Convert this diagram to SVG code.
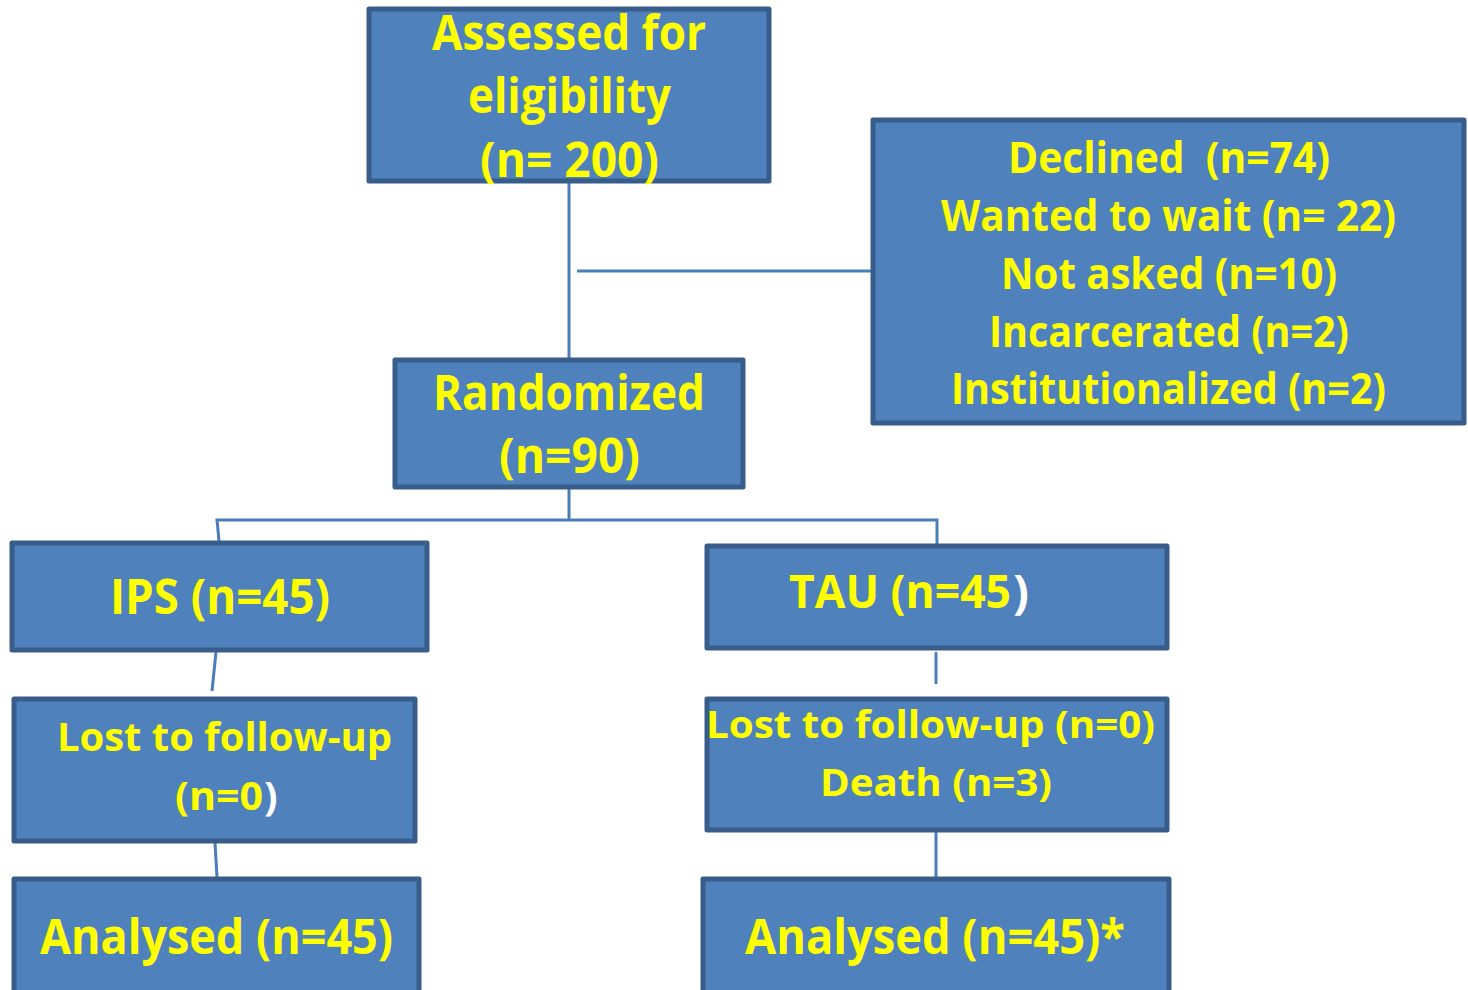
<svg xmlns="http://www.w3.org/2000/svg" width="1468" height="990" viewBox="0 0 1468 990">
<style>
.box{fill:#4F81BD;stroke:#385D8A;stroke-width:5;stroke-linejoin:round}
.t{font-family:"Open Sans","Liberation Sans",sans-serif;font-weight:bold;fill:#FFFF00}
.w{fill:#FFFFFF}
.c{stroke:#4A7EBB;stroke-width:3;fill:none}
</style>
<rect width="1468" height="990" fill="#FFFFFF"/>
<g id="connectors">
<line class="c" x1="569" y1="183" x2="569" y2="358"/>
<line class="c" x1="577" y1="271" x2="871" y2="271"/>
<polyline class="c" points="569,489 569,520"/>
<polyline class="c" points="219,541 217,520 937,520 937,544"/>
<line class="c" x1="216" y1="652" x2="212" y2="691"/>
<line class="c" x1="936" y1="652" x2="936" y2="684"/>
<line class="c" x1="215" y1="843" x2="217" y2="877"/>
<line class="c" x1="936" y1="832" x2="936" y2="877"/>
</g>
<g id="assessed">
<rect class="box" x="369" y="9" width="400" height="172"/>
<text class="t" font-size="49" x="432" y="50" textLength="274" lengthAdjust="spacingAndGlyphs">Assessed for</text>
<text class="t" font-size="49" x="468" y="113" textLength="203" lengthAdjust="spacingAndGlyphs">eligibility</text>
<text class="t" font-size="49" x="480" y="177" textLength="179" lengthAdjust="spacingAndGlyphs">(n= 200)</text>
</g>
<g id="excluded">
<rect class="box" x="873" y="120" width="591" height="303"/>
<text class="t" font-size="43" x="1008" y="173" textLength="322" lengthAdjust="spacingAndGlyphs" xml:space="preserve">Declined  (n=74)</text>
<text class="t" font-size="43" x="941" y="231" textLength="455" lengthAdjust="spacingAndGlyphs">Wanted to wait (n= 22)</text>
<text class="t" font-size="43" x="1001" y="289" textLength="336" lengthAdjust="spacingAndGlyphs">Not asked (n=10)</text>
<text class="t" font-size="43" x="989" y="347" textLength="360" lengthAdjust="spacingAndGlyphs">Incarcerated (n=2)</text>
<text class="t" font-size="43" x="951" y="404" textLength="435" lengthAdjust="spacingAndGlyphs">Institutionalized (n=2)</text>
</g>
<g id="randomized">
<rect class="box" x="395" y="360" width="348" height="127"/>
<text class="t" font-size="49" x="433" y="410" textLength="272" lengthAdjust="spacingAndGlyphs">Randomized</text>
<text class="t" font-size="49" x="499" y="473" textLength="141" lengthAdjust="spacingAndGlyphs">(n=90)</text>
</g>
<g id="ips">
<rect class="box" x="12" y="543" width="415" height="107"/>
<text class="t" font-size="49" x="110" y="614" textLength="220" lengthAdjust="spacingAndGlyphs">IPS (n=45)</text>
</g>
<g id="tau">
<rect class="box" x="707" y="546" width="460" height="102"/>
<text class="t" font-size="47" x="789" y="608" textLength="222" lengthAdjust="spacingAndGlyphs">TAU (n=45</text>
<text class="t w" font-size="47" x="1013" y="608">)</text>
</g>
<g id="lost-ips">
<rect class="box" x="14" y="699" width="401" height="142"/>
<text class="t" font-size="40" x="57" y="751" textLength="335" lengthAdjust="spacingAndGlyphs">Lost to follow-up</text>
<text class="t" font-size="40" x="175" y="810" textLength="88" lengthAdjust="spacingAndGlyphs">(n=0</text>
<text class="t w" font-size="40" x="264" y="810">)</text>
</g>
<g id="lost-tau">
<rect class="box" x="707" y="699" width="460" height="131"/>
<text class="t" font-size="38" x="706" y="738" textLength="449" lengthAdjust="spacingAndGlyphs">Lost to follow-up (n=0)</text>
<text class="t" font-size="38" x="820" y="796" textLength="232" lengthAdjust="spacingAndGlyphs">Death (n=3)</text>
</g>
<g id="analysed-ips">
<rect class="box" x="14" y="879" width="405" height="120"/>
<text class="t" font-size="49" x="40" y="954" textLength="353" lengthAdjust="spacingAndGlyphs">Analysed (n=45)</text>
</g>
<g id="analysed-tau">
<rect class="box" x="703" y="879" width="466" height="120"/>
<text class="t" font-size="49" x="745" y="954" textLength="380" lengthAdjust="spacingAndGlyphs">Analysed (n=45)*</text>
</g>
</svg>
